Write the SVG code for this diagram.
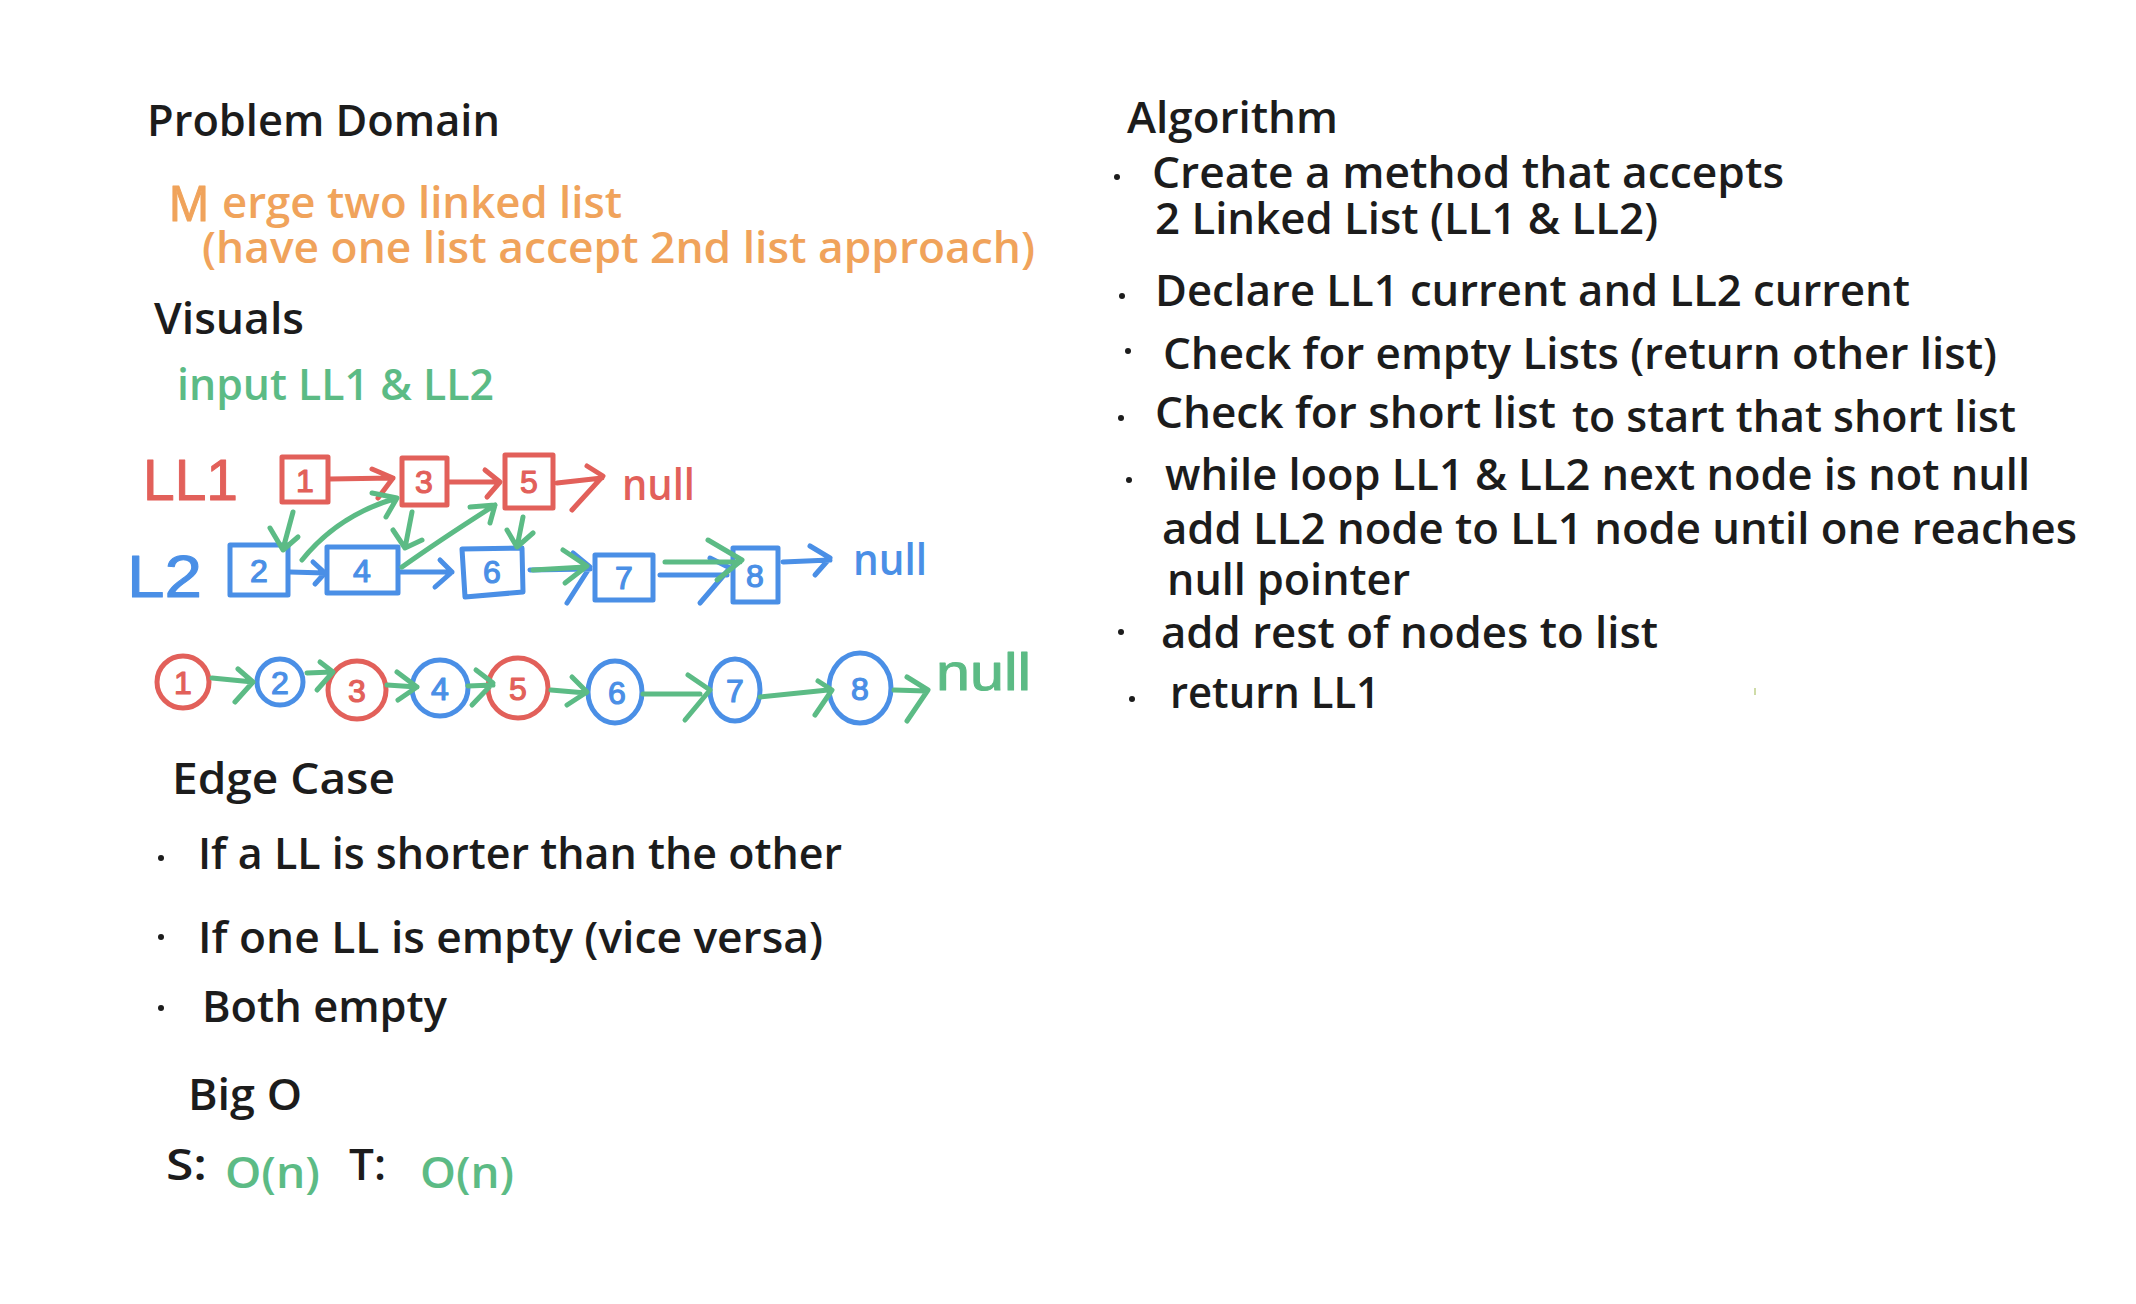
<svg xmlns="http://www.w3.org/2000/svg" width="2136" height="1304" viewBox="0 0 2136 1304">
<style>
.t{font-family:"Open Sans","Liberation Sans",sans-serif;font-size:44px;font-weight:600;fill:#1c1c1c}
.or{fill:#F0A35B}
.gt{fill:#5CBB85}
.rt{fill:#E2605A}
.bt{fill:#4A8FE6}
.hw{font-family:"Liberation Sans",sans-serif;font-weight:normal;stroke-width:1;stroke-linejoin:round}
.hr{fill:#E2605A;stroke:#E2605A}
.hb{fill:#4A8FE6;stroke:#4A8FE6}
.hg{fill:#5CBB85;stroke:#5CBB85}
.ho{fill:#F0A35B;stroke:#F0A35B}
.dg{font-family:"Liberation Sans",sans-serif;font-size:32px;font-weight:normal;text-anchor:middle;stroke-width:1.2;stroke-linejoin:round}
.box{fill:none;stroke-width:5;stroke-linejoin:round}
.sr{stroke:#E2605A}
.sb{stroke:#4A8FE6}
.c{fill:none;stroke-width:5;stroke-linecap:round;stroke-linejoin:round}
.cr{stroke:#E2605A}
.cb{stroke:#4A8FE6}
.cg{stroke:#5CBB85}
.bul{fill:#1c1c1c}
</style>
<rect width="2136" height="1304" fill="#ffffff"/>

<g id="problem-domain">
<text class="t" x="147" y="136" textLength="353" lengthAdjust="spacingAndGlyphs">Problem Domain</text>
<text class="hw ho" x="169" y="221" font-size="50" stroke-width="2" textLength="40" lengthAdjust="spacingAndGlyphs">M</text>
<text class="t or" x="222" y="218" textLength="400" lengthAdjust="spacingAndGlyphs">erge two linked list</text>
<text class="t or" x="202" y="263" textLength="833" lengthAdjust="spacingAndGlyphs">(have one list accept 2nd list approach)</text>
</g>

<g id="visuals">
<text class="t" x="154" y="334" textLength="150" lengthAdjust="spacingAndGlyphs">Visuals</text>
<text class="t gt" x="177" y="400" textLength="317" lengthAdjust="spacingAndGlyphs">input LL1 &amp; LL2</text>
</g>

<g id="label-ll1"><text class="hw hr" x="143" y="500" font-size="58" textLength="95" lengthAdjust="spacingAndGlyphs">LL1</text></g>
<g id="label-ll2"><text class="hw hb" x="127" y="597" font-size="60" textLength="75" lengthAdjust="spacingAndGlyphs">L2</text></g>

<g id="box-1"><rect class="box sr" x="282" y="457" width="46" height="45"/><text class="dg hr" x="305" y="492">1</text></g>
<g id="box-3"><rect class="box sr" x="402" y="458" width="45" height="47"/><text class="dg hr" x="424" y="493">3</text></g>
<g id="box-5"><rect class="box sr" x="505" y="455" width="48" height="53"/><text class="dg hr" x="529" y="493">5</text></g>
<g id="null-red"><text class="t rt" x="622" y="500" textLength="73" lengthAdjust="spacingAndGlyphs">null</text></g>

<g id="box-2"><rect class="box sb" x="230" y="545" width="58" height="50"/><text class="dg hb" x="259" y="582">2</text></g>
<g id="box-4"><rect class="box sb" x="327" y="547" width="71" height="46"/><text class="dg hb" x="362" y="582">4</text></g>
<g id="box-6"><path class="box sb" d="M462,549 L522,548 L523,592 L465,597 Z"/><text class="dg hb" x="492" y="583">6</text></g>
<g id="box-7"><rect class="box sb" x="595" y="555" width="58" height="45"/><text class="dg hb" x="624" y="589">7</text></g>
<g id="box-8"><rect class="box sb" x="733" y="548" width="45" height="54"/><text class="dg hb" x="755" y="587">8</text></g>
<g id="null-blue"><text class="t bt" x="853" y="575" textLength="74" lengthAdjust="spacingAndGlyphs">null</text></g>

<g id="circle-1"><circle class="box sr" cx="183" cy="682" r="26"/><text class="dg hr" x="183" y="694">1</text></g>
<g id="circle-2"><circle class="box sb" cx="280" cy="682" r="23"/><text class="dg hb" x="280" y="694">2</text></g>
<g id="circle-3"><circle class="box sr" cx="357" cy="690" r="29"/><text class="dg hr" x="357" y="702">3</text></g>
<g id="circle-4"><circle class="box sb" cx="440" cy="688" r="28"/><text class="dg hb" x="440" y="700">4</text></g>
<g id="circle-5"><circle class="box sr" cx="518" cy="688" r="30"/><text class="dg hr" x="518" y="700">5</text></g>
<g id="circle-6"><ellipse class="box sb" cx="615" cy="692" rx="27" ry="31"/><text class="dg hb" x="617" y="704">6</text></g>
<g id="circle-7"><ellipse class="box sb" cx="735" cy="690" rx="25" ry="31"/><text class="dg hb" x="735" y="702">7</text></g>
<g id="circle-8"><ellipse class="box sb" cx="860" cy="688" rx="31" ry="35"/><text class="dg hb" x="860" y="700">8</text></g>
<g id="null-green"><text class="hw hg" x="936" y="690" font-size="52" stroke-width="1.5" textLength="95" lengthAdjust="spacingAndGlyphs">null</text></g>

<g id="connectors">
<path class="c cr" d="M330,479 L393,478 M372,469 L393,478 L378,498"/>
<path class="c cr" d="M448,482 L498,482 M485,470 L500,482 L487,497"/>
<path class="c cr" d="M557,483 L602,478 M587,466 L603,476 L572,510"/>
<path class="c cb" d="M290,572 L325,573 M313,562 L325,573 L315,584"/>
<path class="c cb" d="M400,572 L452,572 M440,560 L452,572 L435,587"/>
<path class="c cb" d="M530,570 L590,569 M573,553 L590,567 L567,603"/>
<path class="c cb" d="M660,575 L727,575 M710,558 L730,568 L700,603"/>
<path class="c cb" d="M783,562 L830,560 M810,546 L830,558 L815,575"/>
<path class="c cg" d="M293,512 L283,549 M270,528 L283,550 L298,537"/>
<path class="c cg" d="M302,560 Q338,515 397,498 M372,493 L397,498 L386,517"/>
<path class="c cg" d="M412,512 L405,548 M393,530 L405,548 L422,540"/>
<path class="c cg" d="M402,567 Q440,540 495,505 M470,507 L495,505 L490,523"/>
<path class="c cg" d="M523,517 L517,547 M507,530 L517,547 L533,533"/>
<path class="c cg" d="M533,570 L585,567 M563,550 L587,566 L565,583"/>
<path class="c cg" d="M665,562 L740,562 M708,540 L742,560 L717,580"/>
<path class="c cg" d="M212,678 L253,682 M238,669 L253,682 L235,702"/>
<path class="c cg" d="M307,673 L332,672 M320,662 L333,672 L317,690"/>
<path class="c cg" d="M387,685 L417,687 M397,672 L417,687 L398,700"/>
<path class="c cg" d="M468,686 L493,685 M476,670 L493,683 L472,705"/>
<path class="c cg" d="M551,690 L586,693 M572,677 L587,692 L567,705"/>
<path class="c cg" d="M643,694 L700,694 M688,675 L710,690 L685,720"/>
<path class="c cg" d="M760,697 L828,690 M818,681 L832,690 L815,715"/>
<path class="c cg" d="M894,690 L926,691 M907,677 L928,690 L907,721"/>
</g>

<g id="edge-case">
<text class="t" x="172" y="794" textLength="223" lengthAdjust="spacingAndGlyphs">Edge Case</text>
<circle class="bul" cx="161" cy="858" r="3"/>
<text class="t" x="198" y="869" textLength="644" lengthAdjust="spacingAndGlyphs">If a LL is shorter than the other</text>
<circle class="bul" cx="161" cy="937" r="3"/>
<text class="t" x="198" y="953" textLength="625" lengthAdjust="spacingAndGlyphs">If one LL is empty (vice versa)</text>
<circle class="bul" cx="161" cy="1008" r="3"/>
<text class="t" x="202" y="1022" textLength="245" lengthAdjust="spacingAndGlyphs">Both empty</text>
</g>

<g id="big-o">
<text class="t" x="188" y="1110" textLength="114" lengthAdjust="spacingAndGlyphs">Big O</text>
<text class="t" x="166" y="1180" textLength="41" lengthAdjust="spacingAndGlyphs">S:</text>
<text class="t gt" x="225" y="1188" textLength="95" lengthAdjust="spacingAndGlyphs">O(n)</text>
<text class="t" x="349" y="1180" textLength="37" lengthAdjust="spacingAndGlyphs">T:</text>
<text class="t gt" x="420" y="1188" textLength="94" lengthAdjust="spacingAndGlyphs">O(n)</text>
</g>

<g id="algorithm">
<text class="t" x="1127" y="133" textLength="211" lengthAdjust="spacingAndGlyphs">Algorithm</text>
<circle class="bul" cx="1117" cy="177" r="3"/>
<text class="t" x="1152" y="188" textLength="632" lengthAdjust="spacingAndGlyphs">Create a method that accepts</text>
<text class="t" x="1155" y="234" textLength="503" lengthAdjust="spacingAndGlyphs">2 Linked List (LL1 &amp; LL2)</text>
<circle class="bul" cx="1122" cy="296" r="3"/>
<text class="t" x="1155" y="306" textLength="755" lengthAdjust="spacingAndGlyphs">Declare LL1 current and LL2 current</text>
<circle class="bul" cx="1128" cy="351" r="3"/>
<text class="t" x="1163" y="369" textLength="834" lengthAdjust="spacingAndGlyphs">Check for empty Lists (return other list)</text>
<circle class="bul" cx="1121" cy="418" r="3"/>
<text class="t" x="1155" y="428" textLength="401" lengthAdjust="spacingAndGlyphs">Check for short list</text>
<text class="t" x="1572" y="432" textLength="444" lengthAdjust="spacingAndGlyphs">to start that short list</text>
<circle class="bul" cx="1129" cy="480" r="3"/>
<text class="t" x="1165" y="490" textLength="865" lengthAdjust="spacingAndGlyphs">while loop LL1 &amp; LL2 next node is not null</text>
<text class="t" x="1162" y="544" textLength="915" lengthAdjust="spacingAndGlyphs">add LL2 node to LL1 node until one reaches</text>
<text class="t" x="1167" y="595" textLength="243" lengthAdjust="spacingAndGlyphs">null pointer</text>
<circle class="bul" cx="1121" cy="632" r="3"/>
<text class="t" x="1161" y="648" textLength="497" lengthAdjust="spacingAndGlyphs">add rest of nodes to list</text>
<circle class="bul" cx="1132" cy="699" r="3"/>
<text class="t" x="1170" y="708" textLength="210" lengthAdjust="spacingAndGlyphs">return LL1</text>
</g>
<line x1="1755" y1="688" x2="1755" y2="695" stroke="#cfdca8" stroke-width="2"/>
</svg>
